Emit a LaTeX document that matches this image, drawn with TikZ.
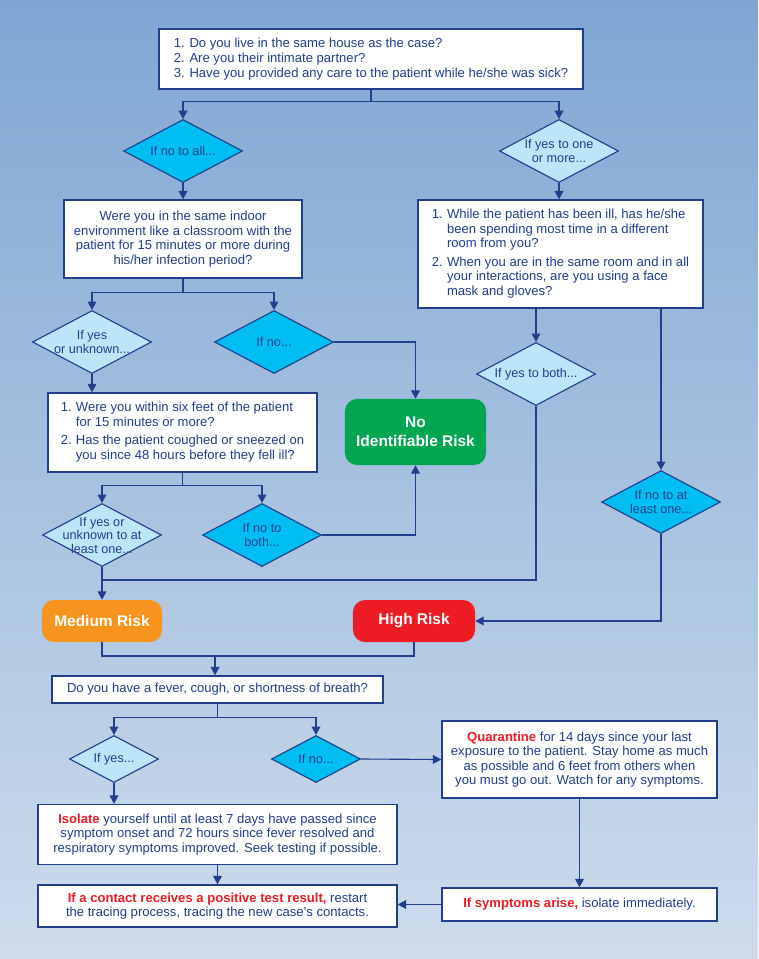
\documentclass[tikz,border=0pt]{standalone}
\usepackage{fontspec}
\setmainfont{Liberation Sans}
\usetikzlibrary{arrows.meta,shapes.geometric}

\definecolor{navy}{HTML}{213F8C}
\definecolor{bgtop}{HTML}{7FA6D3}
\definecolor{bgbot}{HTML}{CEDCEC}
\definecolor{cyanfill}{HTML}{00BDF2}
\definecolor{paleblue}{HTML}{BDE5F9}
\definecolor{riskgreen}{HTML}{00A651}
\definecolor{riskorange}{HTML}{F7941D}
\definecolor{riskred}{HTML}{ED1C24}

\newcommand{\alert}[1]{\textcolor{riskred}{\bfseries #1}}

\begin{document}
\begin{tikzpicture}[x=0.025cm,y=-0.025cm,>=Latex,
  box/.style={draw=navy,line width=1pt,fill=white,text=navy,font=\fontsize{9.3}{10.3}\selectfont,inner sep=0pt},
  choice/.style={diamond,draw=navy,line width=0.8pt,text=navy,font=\fontsize{9}{9.6}\selectfont,inner sep=-3pt,aspect=1.9,align=center,minimum width=2.975cm,minimum height=1.575cm},
  ifyes/.style={choice,fill=paleblue},
  ifno/.style={choice,fill=cyanfill},
  risk/.style={rounded corners=0.3cm,text=white,font=\fontsize{11}{13.5}\selectfont\bfseries,align=center,inner sep=0pt},
  link/.style={navy,line width=0.8pt},
  arr/.style={link,-{Triangle[length=2.1mm,width=2.2mm]}}]
\shade[top color=bgtop,bottom color=bgbot] (0,0) rectangle (758,959);
\useasboundingbox (0,0) rectangle (758,959);

\node[box,minimum width=10.6cm,minimum height=1.5cm,align=left,font=\fontsize{9.3}{10.9}\selectfont] (q1) at (371,59) {1. Do you live in the same house as the case?\\2. Are you their intimate partner?\\3. Have you provided any care to the patient while he/she was sick?};
\node[ifno] (dnoall) at (183,151) {If no to all...};
\node[ifyes] (dyesone) at (559,151) {If yes to one\\or more...};
\node[box,minimum width=5.95cm,minimum height=1.95cm,align=center] (qroom) at (183,239) {Were you in the same indoor\\environment like a classroom with the\\patient for 15 minutes or more during\\his/her infection period?};
\node[box,minimum width=7.125cm,minimum height=2.7cm] (qill) at (560.5,254) {\begin{tabular}{@{}r@{\hspace{3pt}}l@{}}1.&While the patient has been ill, has he/she\\&been spending most time in a different\\&room from you?\\[3pt]2.&When you are in the same room and in all\\&your interactions, are you using a face\\&mask and gloves?\end{tabular}};
\node[ifyes,inner sep=-4pt] (dyesunk) at (92,342) {If yes\\or unknown...};
\node[ifno] (dnoone) at (274,342) {If no...};
\node[ifyes] (dyesboth) at (536,374) {If yes to both...};
\node[ifno] (dnoleast) at (661,502) {If no to at\\least one...};
\node[risk,fill=riskgreen,minimum width=3.525cm,minimum height=1.65cm] (norisk) at (415.5,432) {No\\Identifiable Risk};
\node[box,minimum width=6.725cm,minimum height=1.975cm] (qsix) at (182.5,432.5) {\begin{tabular}{@{}r@{\hspace{3pt}}l@{}}1.&Were you within six feet of the patient\\&for 15 minutes or more?\\[3pt]2.&Has the patient coughed or sneezed on\\&you since 48 hours before they fell ill?\end{tabular}};
\node[ifyes,inner sep=-5.5pt] (dyesleast) at (102,535) {If yes or\\unknown to at\\least one...};
\node[ifno] (dnoboth) at (262,535) {If no to\\both...};
\node[risk,fill=riskorange,minimum width=3cm,minimum height=1.05cm] (medrisk) at (102,621) {Medium Risk};
\node[risk,fill=riskred,minimum width=3.05cm,minimum height=1.05cm] (highrisk) at (414,621) {High Risk};
\node[box,minimum width=8.275cm,minimum height=0.675cm] (qfever) at (217.5,689.5) {Do you have a fever, cough, or shortness of breath?};
\node[ifyes,minimum width=2.225cm,minimum height=1.175cm] (dyes) at (114,759) {If yes...};
\node[ifno,minimum width=2.225cm,minimum height=1.175cm] (dno) at (316,759) {If no...};
\node[box,minimum width=6.875cm,minimum height=1.925cm,align=center] (quar) at (579.5,759.5) {\alert{Quarantine} for 14 days since your last\\exposure to the patient. Stay home as much\\as possible and 6 feet from others when\\you must go out. Watch for any symptoms.};
\node[box,minimum width=8.975cm,minimum height=1.5cm,align=center] (isolate) at (217.5,834.5) {\alert{Isolate} yourself until at least 7 days have passed since\\symptom onset and 72 hours since fever resolved and\\respiratory symptoms improved. Seek testing if possible.};
\node[box,minimum width=8.975cm,minimum height=1.05cm,align=center] (positive) at (217.5,906) {\alert{If a contact receives a positive test result,} restart\\the tracing process, tracing the new case's contacts.};
\node[box,minimum width=6.875cm,minimum height=0.825cm] (arise) at (579.5,904.5) {\alert{If symptoms arise,} isolate immediately.};

\coordinate (join) at (102,580);
\coordinate (merge) at (215,656);

\draw[arr] (q1.south) -- ++(0,12) -| (dnoall.north);
\draw[arr] (q1.south) -- ++(0,12) -| (dyesone.north);
\draw[arr] (dnoall) -- (qroom);
\draw[arr] (dyesone.south) -- (dyesone.south |- qill.north);
\draw[arr] (qroom.south) -- ++(0,14) -| (dyesunk.north);
\draw[arr] (qroom.south) -- ++(0,14) -| (dnoone.north);
\draw[arr] (dnoone.east) -| (norisk.north);
\draw[arr] (dyesunk.south) -- (dyesunk.south |- qsix.north);
\draw[arr] (dyesboth.north |- qill.south) -- (dyesboth.north);
\draw[arr] (dnoleast.north |- qill.south) -- (dnoleast.north);
\draw[arr] (qsix.south) -- ++(0,13) -| (dyesleast.north);
\draw[arr] (qsix.south) -- ++(0,13) -| (dnoboth.north);
\draw[arr] (dnoboth.east) -| (norisk.south);
\draw[arr] (dyesleast.south) -- (medrisk.north);
\draw[link] (dyesboth.south) |- (join);
\draw[arr] (dnoleast.south) |- (highrisk.east);
\draw[link] (medrisk.south) |- (merge) -| (highrisk.south);
\draw[arr] (merge) -- (merge |- qfever.north);
\draw[arr] (qfever.south) -- ++(0,14) -| (dyes.north);
\draw[arr] (qfever.south) -- ++(0,14) -| (dno.north);
\draw[arr] (dno.east) -- (quar.west);
\draw[arr] (dyes.south) -- (dyes.south |- isolate.north);
\draw[arr] (isolate) -- (positive);
\draw[arr] (quar) -- (arise);
\draw[arr] (arise.west) -- (arise.west -| positive.east);
\end{tikzpicture}
\end{document}
